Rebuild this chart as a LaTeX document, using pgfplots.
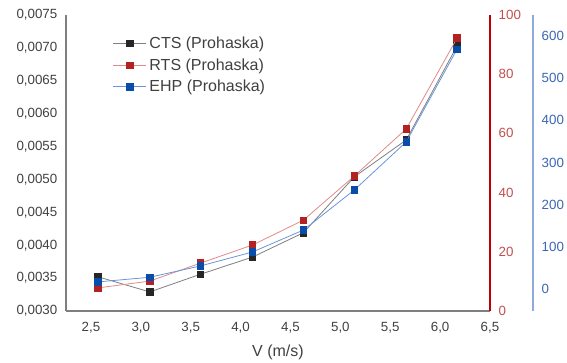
\documentclass[border=0pt]{standalone}
\usepackage{pgfplots}
\pgfplotsset{compat=1.18}
\usepackage{fontspec}
\setmainfont{Liberation Sans}
\definecolor{ctsline}{HTML}{7F7F7F}
\definecolor{ctsmark}{HTML}{262626}
\definecolor{rtsline}{HTML}{E08A8A}
\definecolor{rtsmark}{HTML}{B22222}
\definecolor{ehpline}{HTML}{6A95DA}
\definecolor{ehpmark}{HTML}{0A4DA8}
\definecolor{redaxis}{HTML}{C00000}
\definecolor{redlab}{HTML}{C0504D}
\definecolor{blueaxis}{HTML}{8EA9DB}
\definecolor{bluelab}{HTML}{3A66B5}
\definecolor{graytxt}{HTML}{404040}
\begin{document}
\begin{tikzpicture}
\useasboundingbox (-49.5pt,-39pt) rectangle (375.75pt,233.25pt);
\pgfplotsset{
  common/.style={scale only axis, width=318pt, height=222pt,
    xmin=2.25, xmax=6.5, major tick length=0pt,
    /pgf/number format/assume math mode=true,
    tick label style={font=\fontsize{10}{12}\selectfont},
    scaled y ticks=false},
}
% main axis (left, CTS)
\begin{axis}[common,
  ymin=0.003, ymax=0.0075,
  axis x line*=bottom, axis y line*=left,
  axis line style={draw=ctsline, line width=1pt},
  xtick={2.5,3,3.5,4,4.5,5,5.5,6,6.5},
  ytick={0.003,0.0035,0.004,0.0045,0.005,0.0055,0.006,0.0065,0.007,0.0075},
  xticklabel style={yshift=-5pt, /pgf/number format/.cd, fixed, fixed zerofill, precision=1, use comma},
  yticklabel style={xshift=-3pt, /pgf/number format/.cd, fixed, fixed zerofill, precision=4, use comma},
  tick label style={text=graytxt},
  xlabel={V (m/s)},
  xlabel style={font=\fontsize{12}{14}\selectfont, text=graytxt, yshift=-2pt},
  legend style={draw=none, fill=none, at={(0.1,0.945)}, anchor=north west,
    font=\fontsize{12}{14}\selectfont, text=graytxt, row sep=2pt,
    legend cell align=left},
  legend image code/.code={
    \draw[#1, mark=none] (0pt,0pt) -- (25pt,0pt);
    \draw[#1, only marks] plot coordinates {(12.5pt,0pt)};
  },
]
\addplot[ctsline, line width=0.6pt, mark=square*, mark size=2.4pt,
  mark options={fill=ctsmark, draw=ctsmark}]
  coordinates {(2.57,0.00352) (3.09,0.00329) (3.60,0.00356) (4.12,0.00382)
    (4.63,0.00419) (5.14,0.00504) (5.66,0.00560) (6.17,0.00703)};
\addlegendentry{CTS (Prohaska)}
\addlegendimage{rtsline, line width=0.6pt, mark=square*, mark size=2.4pt,
  mark options={fill=rtsmark, draw=rtsmark}}
\addlegendentry{RTS (Prohaska)}
\addlegendimage{ehpline, line width=0.6pt, mark=square*, mark size=2.4pt,
  mark options={fill=ehpmark, draw=ehpmark}}
\addlegendentry{EHP (Prohaska)}
\end{axis}
% red axis (RTS)
\begin{axis}[common,
  ymin=0, ymax=100,
  axis x line=none, axis y line*=right,
  axis line style={draw=redaxis, line width=0.8pt},
  ytick={0,20,40,60,80,100},
  yticklabel style={text=redlab, xshift=3pt},
]
\addplot[rtsline, line width=0.6pt, mark=square*, mark size=2.4pt,
  mark options={fill=rtsmark, draw=rtsmark}]
  coordinates {(2.57,7.8) (3.09,10.1) (3.60,16.2) (4.12,22.3)
    (4.63,30.7) (5.14,45.6) (5.66,61.5) (6.17,92.2)};
\end{axis}
% blue data axis (EHP)
\begin{axis}[common, hide axis, ymin=-52, ymax=650]
\addplot[ehpline, line width=0.6pt, mark=square*, mark size=2.4pt,
  mark options={fill=ehpmark, draw=ehpmark}]
  coordinates {(2.57,17) (3.09,28) (3.60,55) (4.12,88)
    (4.63,140) (5.14,235) (5.66,349) (6.17,569)};
\end{axis}
% blue tick axis, offset
\begin{axis}[common, at={(32.25pt,0pt)},
  ymin=-52, ymax=650,
  axis x line=none, axis y line*=right,
  axis line style={draw=blueaxis, line width=1.2pt},
  ytick={0,100,200,300,400,500,600},
  yticklabel style={text=bluelab, xshift=3pt},
]
\end{axis}
\end{tikzpicture}
\end{document}
